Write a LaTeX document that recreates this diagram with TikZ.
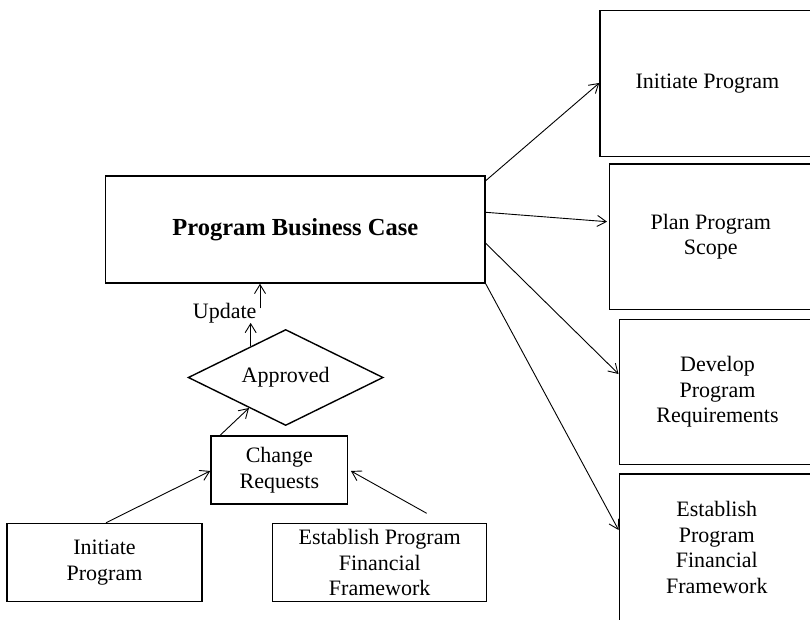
\documentclass[tikz,border=0pt]{standalone}
\usepackage{fontspec}
\setmainfont{Liberation Serif}
\usetikzlibrary{shapes.geometric,arrows.meta,calc}

\tikzset{
  box/.style={draw, line width=1.5pt, rectangle, inner sep=0pt, align=center,
              font=\fontsize{22}{25.5}\selectfont},
  decision/.style={draw, line width=1.4pt, diamond, aspect=2, inner sep=0pt,
              minimum width=195pt, minimum height=96pt,
              font=\fontsize{22}{25.5}\selectfont},
  conn/.style={line width=0.9pt, -{Straight Barb[length=9pt,width=11pt,line width=0.9pt]}},
  lbl/.style={inner sep=0pt, font=\fontsize{22}{25.5}\selectfont}
}

\begin{document}
\begin{tikzpicture}[x=1pt,y=-1pt]
  \useasboundingbox (0,0) rectangle (810,620);
  \clip (0,0) rectangle (810,620);

  % central business case and its change loop
  \node[box, minimum width=379.3pt, minimum height=107pt,
        font=\fontsize{24.5}{27}\selectfont\bfseries] (pbc) at (295.3,229.5) {Program Business Case};
  \node[decision] (approved) at (285.7,377.5) {Approved};
  \node[box, minimum width=136.7pt, minimum height=67.6pt] (cr) at (279.35,470) {Change\\Requests};
  \node[box, minimum width=195pt, minimum height=78pt] (ip) at (104.5,562.5) {Initiate\\Program};
  \node[box, minimum width=214pt, minimum height=78pt] (epf) at (379.7,562.5) {Establish Program\\Financial\\Framework};
  \node[lbl, anchor=base] (update) at (224.7,318) {Update};

  % downstream processes on the right
  \node[box, minimum width=214.8pt, minimum height=145.7pt] (r1) at (707.4,83.5) {Initiate Program};
  \node[box, minimum width=203pt, minimum height=145.3pt] (r2) at (710.8,236.7) {Plan Program\\Scope};
  \node[box, minimum width=196.4pt, minimum height=145pt] (r3) at (717.5,391.8) {Develop\\Program\\Requirements};
  \node[box, minimum width=195pt, minimum height=147pt] (r4) at (716.8,547.5) {Establish\\Program\\Financial\\Framework};

  % connection points
  \coordinate (upA) at ($(approved.west)!0.643!(approved.north)$);
  \coordinate (upB) at (260,308.3);
  \coordinate (crIn) at ($(approved.west)!0.626!(approved.south)$);
  \coordinate (epfOut) at (426.7,513.3);

  % change requests flow
  \draw[conn] ([xshift=1.5pt]ip.north) -- ([yshift=-1pt]cr.west);
  \draw[conn] (epfOut) -- ([xshift=2.5pt,yshift=-1pt]cr.east);
  \draw[conn] ([xshift=9.7pt]cr.north west) -- (crIn);
  \draw[conn] (upA) -- (upA |- update.south);
  \draw[conn] (upB) -- (upB |- pbc.south);

  % business case feeds the processes
  \draw[conn] ([yshift=48.8pt]pbc.east) -- ([yshift=0.5pt]r1.west);
  \draw[conn] ([yshift=17.2pt]pbc.east) -- ([xshift=-1.5pt,yshift=15pt]r2.west);
  \draw[conn] ([yshift=-13.8pt]pbc.east) -- ([yshift=17.8pt]r3.west);
  \draw[conn] (pbc.south east) -- ([yshift=17.5pt]r4.west);
\end{tikzpicture}
\end{document}
